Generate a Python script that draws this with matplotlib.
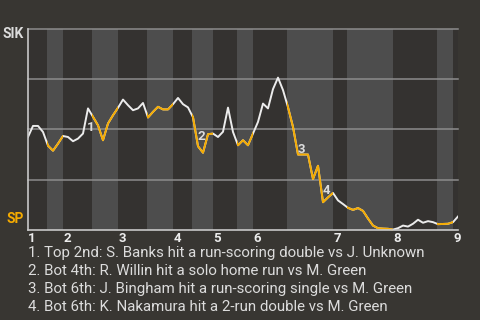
"""Win probability chart, SIK vs SP, with half-inning bands and key plays."""
import matplotlib
matplotlib.use("Agg")
import matplotlib.pyplot as plt
from matplotlib.patches import Rectangle

# win probability for SIK after each plate appearance (0 = SP wins, 1 = SIK wins)
win_prob = [
    0.462, 0.517, 0.517, 0.487, 0.419, 0.394, 0.429, 0.467, 0.462, 0.441,
    0.454, 0.479, 0.604, 0.562, 0.520, 0.446, 0.529, 0.570, 0.607, 0.648,
    0.620, 0.595, 0.604, 0.631, 0.559, 0.587, 0.612, 0.599, 0.599, 0.625,
    0.656, 0.625, 0.609, 0.560, 0.416, 0.384, 0.476, 0.479, 0.462, 0.488,
    0.608, 0.487, 0.421, 0.446, 0.421, 0.479, 0.537, 0.628, 0.604, 0.700,
    0.757, 0.695, 0.610, 0.512, 0.375, 0.375, 0.375, 0.253, 0.319, 0.138,
    0.162, 0.184, 0.147, 0.129, 0.110, 0.100, 0.109, 0.095, 0.057, 0.022,
    0.009, 0.007, 0.006, 0.002, 0.009, 0.022, 0.017, 0.031, 0.051, 0.036,
    0.044, 0.039, 0.029, 0.030, 0.031, 0.039, 0.067,
]

# half-inning boundaries in plate-appearance units: top1, bot1, top2, ...
half_edges = [0, 3.8, 7, 12.8, 18, 23.8, 29, 32.8, 37, 41.8, 45, 51.8,
              61, 63.8, 73, 81.8, 85, 86]
innings = ["1", "2", "3", "4", "5", "6", "7", "8", "9"]

# key plays: index of plate appearance and caption
event_idx = [12, 34, 54, 59]
event_text = [
    "1. Top 2nd: S. Banks hit a run-scoring double vs J. Unknown",
    "2. Bot 4th: R. Willin hit a solo home run vs M. Green",
    "3. Bot 6th: J. Bingham hit a run-scoring single vs M. Green",
    "4. Bot 6th: K. Nakamura hit a 2-run double vs M. Green",
]

BG = "#383632"
DARK = "#343230"
LIGHT = "#4d4d4d"
WHITE = "#ececec"
ORANGE = "#f5ab00"
TEXT = "#dcdcdc"
FONT = ["Roboto", "DejaVu Sans"]

plt.rcParams["font.family"] = FONT

fig = plt.figure(figsize=(4.8, 3.2), dpi=100, facecolor=BG)
ax = fig.add_axes([28 / 480, 90 / 320, 430 / 480, 201.3 / 320])
ax.set_facecolor(DARK)

x = list(range(len(win_prob)))
ax.set_xlim(0, len(win_prob) - 1)
ax.set_ylim(0, 1)

# bottom halves get the lighter band
bottoms = list(zip(half_edges[1::2], half_edges[2::2]))
for s, e in bottoms:
    ax.axvspan(s, e, color=LIGHT, lw=0, zorder=0)

for g in (0.25, 0.5, 0.75, 1.0):
    ax.axhline(g, color="#8c8c8c", lw=1.1, zorder=1, clip_on=False)

ax.plot(x, win_prob, color=WHITE, lw=1.4, zorder=3)
for s, e in bottoms:
    ln, = ax.plot(x, win_prob, color=ORANGE, lw=1.4, zorder=4)
    ln.set_clip_path(Rectangle((s, -1), e - s, 3, transform=ax.transData))

# play markers
offsets = [(3, -19), (3, 10), (3, 5), (3, 12)]
for k, (i, off) in enumerate(zip(event_idx, offsets)):
    ax.annotate(str(k + 1), xy=(i, win_prob[i]), xytext=off,
                textcoords="offset pixels", ha="center", va="center",
                fontsize=9.5, fontweight="bold", color=TEXT, zorder=5)

for side in ("top", "right"):
    ax.spines[side].set_visible(False)
for side in ("left", "bottom"):
    ax.spines[side].set_color("#c8c8c8")
    ax.spines[side].set_linewidth(1.2)
    ax.spines[side].set_zorder(6)

tops = half_edges[0::2][:len(innings)]
ax.set_xticks([t + 0.8 for t in tops], innings)
ax.set_yticks([])
ax.tick_params(axis="x", length=0, pad=1.5, colors=WHITE, labelsize=9.5)
for lab in ax.get_xticklabels():
    lab.set_fontweight("bold")

ax.annotate("SIK", xy=(0, 0.974), xycoords="axes fraction", xytext=(-4, 0),
            textcoords="offset pixels", ha="right", va="center",
            fontsize=10, fontweight="bold", color=TEXT)
ax.annotate("SP", xy=(0, 0.055), xycoords="axes fraction", xytext=(-4, 0),
            textcoords="offset pixels", ha="right", va="center",
            fontsize=10, fontweight="bold", color=ORANGE)

for k, txt in enumerate(event_text):
    fig.text(28 / 480, 1 - (253.3 + 17.8 * k) / 320, txt, ha="left",
             va="center", fontsize=10.8, color=TEXT)

fig.savefig("out.png", dpi=100, facecolor=BG)
